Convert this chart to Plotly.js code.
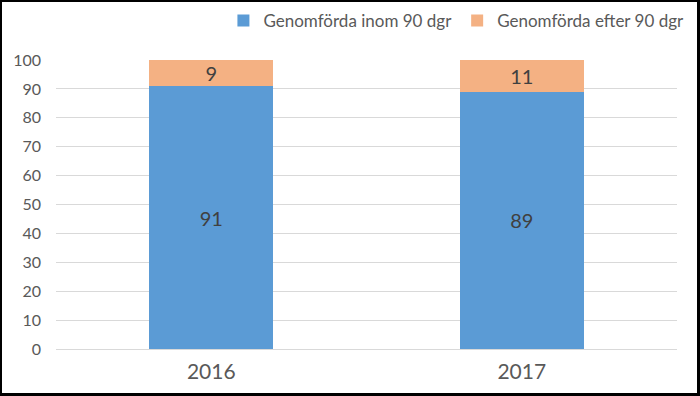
<!DOCTYPE html>
<html>
<head>
<meta charset="utf-8">
<script src="https://cdn.plot.ly/plotly-3.0.1.min.js"></script>
<style>
html,body{margin:0;padding:0;background:#fff;}
#wrap{position:relative;width:700px;height:396px;}
#chart{width:700px;height:396px;}
#frame{position:absolute;left:0;top:0;width:700px;height:396px;box-sizing:border-box;border-style:solid;border-color:#000;border-width:2px 3px 3px 2px;pointer-events:none;}
</style>
</head>
<body>
<div id="wrap"><div id="chart"></div><div id="frame"></div></div>
<script>
const years = ['2016', '2017'];
const inom = [91, 89];
const efter = [9, 11];
const seriesNames = ['Genomförda inom 90 dgr', 'Genomförda efter 90 dgr'];
const yTicks = [0, 10, 20, 30, 40, 50, 60, 70, 80, 90, 100];

const fontFam = 'Lato, "Open Sans", sans-serif';

const traces = [
  {
    type: 'bar', x: years, y: inom, name: seriesNames[0],
    marker: {color: '#5B9BD5'},
    text: inom.map(String), textposition: 'inside', insidetextanchor: 'middle',
    textangle: 0, constraintext: 'none',
    textfont: {family: fontFam, size: 20, color: '#404040'},
    hoverinfo: 'none'
  },
  {
    type: 'bar', x: years, y: efter, name: seriesNames[1],
    marker: {color: '#F4B183'},
    text: efter.map(String), textposition: 'inside', insidetextanchor: 'middle',
    textangle: 0, constraintext: 'none',
    textfont: {family: fontFam, size: 20, color: '#404040'},
    hoverinfo: 'none'
  }
];

const layout = {
  width: 700, height: 396,
  margin: {l: 56, r: 23, t: 60, b: 47, autoexpand: false},
  paper_bgcolor: '#fff', plot_bgcolor: '#fff',
  barmode: 'stack', bargap: 0.6,
  font: {family: fontFam, color: '#595959'},
  showlegend: true,
  legend: {
    orientation: 'h', x: 1.02, xanchor: 'right', y: 1.135, yanchor: 'middle',
    font: {family: fontFam, size: 17, color: '#595959'},
    traceorder: 'normal', itemwidth: 30
  },
  xaxis: {
    type: 'category', range: [-0.5, 1.5],
    showgrid: false, zeroline: false, showline: false,
    ticks: '', tickfont: {family: fontFam, size: 21, color: '#595959'},
    ticklabelstandoff: 8
  },
  yaxis: {
    range: [0, 100], tickvals: yTicks, ticktext: yTicks.map(String),
    showgrid: true, gridcolor: '#D9D9D9', gridwidth: 1,
    zeroline: true, zerolinecolor: '#D9D9D9', zerolinewidth: 1,
    showline: false, ticks: '',
    tickfont: {family: fontFam, size: 16, color: '#595959'},
    ticklabelstandoff: 14
  }
};

Plotly.newPlot('chart', traces, layout, {displayModeBar: false, staticPlot: true});
</script>
</body>
</html>
